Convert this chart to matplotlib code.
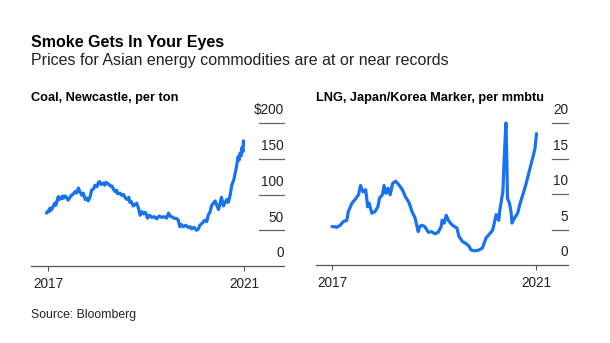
import matplotlib
matplotlib.use("Agg")
import matplotlib.pyplot as plt
import matplotlib.transforms as mtransforms

plt.rcParams['font.family'] = ['Liberation Sans', 'DejaVu Sans']

title = "Smoke Gets In Your Eyes"
subtitle = "Prices for Asian energy commodities are at or near records"
source = "Source: Bloomberg"

coal_title = "Coal, Newcastle, per ton"
coal_years = [2016.97, 2017.00, 2017.02, 2017.04, 2017.06, 2017.08, 2017.11, 2017.14, 2017.16, 2017.18,
              2017.21, 2017.23, 2017.25, 2017.28, 2017.30, 2017.32, 2017.35, 2017.38, 2017.41, 2017.45,
              2017.48, 2017.52, 2017.55, 2017.58, 2017.62, 2017.65, 2017.69, 2017.72, 2017.76, 2017.79,
              2017.82, 2017.86, 2017.89, 2017.93, 2017.96, 2018.00, 2018.03, 2018.05, 2018.09, 2018.13,
              2018.16, 2018.18, 2018.23, 2018.27, 2018.30, 2018.34, 2018.37, 2018.40, 2018.42, 2018.47,
              2018.50, 2018.54, 2018.58, 2018.62, 2018.65, 2018.67, 2018.70, 2018.74, 2018.78, 2018.81,
              2018.85, 2018.88, 2018.92, 2018.95, 2018.99, 2019.03, 2019.07, 2019.12, 2019.17, 2019.22,
              2019.27, 2019.32, 2019.37, 2019.42, 2019.46, 2019.49, 2019.52, 2019.57, 2019.63, 2019.66,
              2019.69, 2019.72, 2019.76, 2019.81, 2019.86, 2019.90, 2019.93, 2019.98, 2020.03, 2020.07,
              2020.10, 2020.15, 2020.20, 2020.24, 2020.27, 2020.31, 2020.34, 2020.38, 2020.41, 2020.45,
              2020.48, 2020.51, 2020.54, 2020.58, 2020.61, 2020.65, 2020.68, 2020.72, 2020.75, 2020.79,
              2020.82, 2020.85, 2020.88, 2020.90, 2020.92, 2020.94, 2020.96, 2020.98, 2020.99]
coal_values = [74, 77, 76, 81, 78, 80, 84, 88, 85, 90,
               97, 93, 96, 94, 98, 95, 98, 96, 92, 96,
               99, 101, 104, 102, 109, 104, 99, 102, 93, 95,
               91, 97, 106, 108, 113, 111, 117, 118, 114, 116,
               113, 117, 115, 112, 112, 107, 104, 106, 101, 102,
               99, 100, 95, 93, 96, 89, 90, 84, 86, 88,
               80, 71, 76, 73, 75, 67, 71, 68, 69, 66,
               70, 68, 69, 67, 74, 70, 69, 67, 66, 64,
               55, 58, 55, 57, 54, 55, 52, 54, 50, 52,
               57, 60, 64, 62, 71, 76, 85, 88, 91, 84,
               79, 87, 96, 84, 88, 93, 89, 100, 113, 120,
               130, 140, 153, 148, 158, 154, 166, 160, 175]

lng_title = "LNG, Japan/Korea Marker, per mmbtu"
lng_years = [2017.00, 2017.05, 2017.09, 2017.16, 2017.22, 2017.29, 2017.32, 2017.39, 2017.45, 2017.52,
             2017.56, 2017.61, 2017.66, 2017.70, 2017.73, 2017.78, 2017.84, 2017.90, 2017.93, 2017.99,
             2018.02, 2018.06, 2018.10, 2018.14, 2018.19, 2018.25, 2018.31, 2018.38, 2018.44, 2018.51,
             2018.57, 2018.63, 2018.69, 2018.72, 2018.76, 2018.82, 2018.89, 2018.95, 2019.02, 2019.08,
             2019.14, 2019.16, 2019.20, 2019.24, 2019.29, 2019.36, 2019.45, 2019.49, 2019.56, 2019.61,
             2019.68, 2019.73, 2019.80, 2019.88, 2019.95, 2020.02, 2020.08, 2020.15, 2020.22, 2020.27,
             2020.29, 2020.35, 2020.38, 2020.41, 2020.43, 2020.44, 2020.48, 2020.51, 2020.53, 2020.57,
             2020.64, 2020.69, 2020.75, 2020.80, 2020.85, 2020.90, 2020.95, 2020.98, 2021.01]
lng_values = [5.4, 5.4, 5.3, 5.6, 6.1, 6.3, 7.5, 8.7, 9.2, 9.9,
              11.2, 10.3, 10.6, 8.2, 8.7, 7.3, 7.5, 8.2, 9.4, 9.9,
              11.2, 10.1, 10.8, 9.9, 11.5, 11.8, 11.3, 10.6, 9.6, 8.8,
              7.5, 6.6, 4.7, 5.4, 5.6, 5.4, 4.6, 4.7, 4.4, 4.6,
              5.4, 6.3, 5.9, 7.0, 6.2, 5.6, 5.2, 4.0, 3.3, 3.1,
              2.7, 2.1, 2.0, 2.1, 2.4, 3.8, 4.3, 4.9, 7.1, 6.3,
              7.7, 10.3, 15.5, 20.0, 14.1, 9.4, 8.7, 7.5, 5.9, 6.5,
              7.3, 8.7, 10.1, 11.3, 12.7, 14.1, 15.5, 16.4, 18.5]

coal_ticks = [0, 50, 100, 150, 200]
coal_labels = ["0", "50", "100", "150", "$200"]
lng_ticks = [0, 5, 10, 15, 20]
lng_labels = ["0", "5", "10", "15", "20"]
x_ticks = [2017, 2021]
x_labels = ["2017", "2021"]

BLUE = "#1672F0"
GRID = "#666666"
TEXT = "#222222"

fig = plt.figure(figsize=(6.10, 3.43), dpi=100)
fig.patch.set_facecolor("white")

fig.text(31/610, 1-46.7/343, title, fontsize=11.5, fontweight="bold", va="baseline", ha="left", color="black")
fig.text(31/610, 1-65/343, subtitle, fontsize=11.5, va="baseline", ha="left", color=TEXT)
fig.text(31/610, 1-318/343, source, fontsize=8.8, va="baseline", ha="left", color=TEXT)


def panel(rect, xs, ys, xlim, ylim, ticks, labels, grid_start):
    ax = fig.add_axes(rect)
    ax.plot(xs, ys, color=BLUE, lw=2.3, solid_joinstyle="round", solid_capstyle="round", clip_on=False)
    ax.set_xlim(*xlim)
    ax.set_ylim(*ylim)
    for s in ["top", "left", "right"]:
        ax.spines[s].set_visible(False)
    ax.spines["bottom"].set_color("#555555")
    ax.spines["bottom"].set_linewidth(0.9)
    ax.set_yticks([])
    ax.set_xticks(x_ticks)
    ax.set_xticklabels(x_labels, fontsize=9.8, color=TEXT)
    ax.tick_params(axis="x", length=3.5, width=0.8, color="#555555", pad=4.5)
    trans = mtransforms.blended_transform_factory(ax.transAxes, ax.transData)
    for t, lab in zip(ticks, labels):
        if t != ylim[0]:
            ax.plot([grid_start, 1.0], [t, t], transform=trans, color=GRID, lw=0.9, clip_on=False)
        ax.annotate(lab, xy=(1.0, t), xycoords=trans, xytext=(0, 6.3), textcoords="offset points",
                    ha="right", va="baseline", fontsize=9.8, color=TEXT)
    ax.set_facecolor("none")
    return ax


ax1 = panel([31/610, 1-266/343, 253/610, 143/343], coal_years, coal_values,
            (2017 - 17/49, 2021 + 40/49), (0, 200), coal_ticks, coal_labels,
            (259-31)/253)
ax2 = panel([316/610, 1-265/343, 252/610, 142/343], lng_years, lng_values,
            (2017 - 16/51, 2021 + 32/51), (0, 20), lng_ticks, lng_labels,
            (552-316)/252)

fig.text(31/610, 1-100.7/343, coal_title, fontsize=9.2, fontweight="bold", va="baseline", ha="left", color="black")
fig.text(316/610, 1-100.7/343, lng_title, fontsize=9.2, fontweight="bold", va="baseline", ha="left", color="black")

fig.savefig("out.png", dpi=100, facecolor="white")
